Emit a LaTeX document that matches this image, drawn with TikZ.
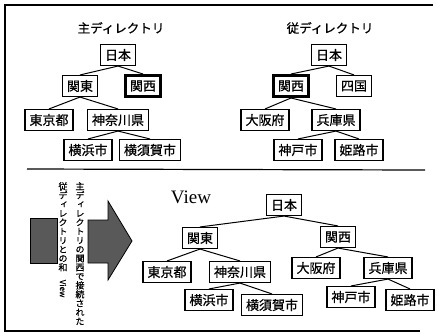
\documentclass[tikz,border=0pt]{standalone}
\usepackage{fontspec}
\setmainfont{Liberation Serif}
\newfontfamily\jp[FakeBold=0.6]{Noto Sans CJK JP}
\newfontfamily\jpv[RawFeature=+vert, FakeBold=0.5]{Noto Sans CJK JP}
\begin{document}
\begin{tikzpicture}[x=1pt,y=-1pt,
  box/.style={draw, line width=1.1pt, font=\jp\fontsize{13}{15}\selectfont, inner xsep=4.5pt, inner ysep=0pt, minimum height=21pt},
  hl/.style={box, line width=3pt},
  edge/.style={line width=1pt},
  title/.style={font=\jp\fontsize{12.5}{14}\selectfont},
  vtext/.style={font=\jpv\fontsize{9}{9}\selectfont, align=center, inner sep=0pt},
  frame/.style={line width=1.2pt},
  shade/.style={draw=black, line width=0.8pt, fill=black!65}]
\useasboundingbox (0,0) rectangle (438,333);
% frame
\draw[frame] (433,5) -- (5,5) -- (5,331) -- (420,331);
\draw[frame] (27,169) -- (425,170);

% ---- main directory
\node[title] (t1) at (121,28) {主ディレクトリ};
\node[box] (a0) at (118,55) {日本};
\node[box] (a1) at (80,86) {関東};
\node[hl]  (a2) at (143,86) {関西};
\node[box] (a3) at (49,120) {東京都};
\node[box] (a4) at (118,120) {神奈川県};
\node[box] (a5) at (88,150) {横浜市};
\node[box] (a6) at (150,150) {横須賀市};
\draw[edge] (a0.south) -- (a1.north);
\draw[edge] (a0.south) -- (a2.north);
\draw[edge] (a1.south) -- (a3.north);
\draw[edge] (a1.south) -- (a4.north);
\draw[edge] (a4.south) -- (a5.north);
\draw[edge] (a4.south) -- (a6.north);

% ---- sub directory
\node[title] (t2) at (330,28) {従ディレクトリ};
\node[box] (b0) at (329,55) {日本};
\node[hl]  (b1) at (291,86) {関西};
\node[box] (b2) at (354,86) {四国};
\node[box] (b3) at (265,120) {大阪府};
\node[box] (b4) at (336,120) {兵庫県};
\node[box] (b5) at (298,150) {神戸市};
\node[box] (b6) at (359,150) {姫路市};
\draw[edge] (b0.south) -- (b1.north);
\draw[edge] (b0.south) -- (b2.north);
\draw[edge] (b1.south) -- (b3.north);
\draw[edge] (b1.south) -- (b4.north);
\draw[edge] (b4.south) -- (b5.north);
\draw[edge] (b4.south) -- (b6.north);

% ---- left: square, arrow, vertical text
\filldraw[shade] (30,218) rectangle (57,263);
\filldraw[shade] (88,220) -- (108,220) -- (108,201) -- (132,241) -- (108,280) -- (108,263) -- (88,263) -- cycle;
\node[vtext, anchor=north] (c1) at (80,182) {主\\デ\\ィ\\レ\\ク\\ト\\リ\\の\\関\\西\\で\\接\\続\\さ\\れ\\た};
\node[vtext, anchor=north] (c2) at (63,182) {従\\デ\\ィ\\レ\\ク\\ト\\リ\\と\\の\\和\\\rotatebox{-90}{\fontsize{8}{8}\selectfont View}};

% ---- view
\node[font=\fontsize{19}{20}\selectfont, inner sep=0pt] (view) at (191,197) {View};
\node[box] (v0) at (284,205) {日本};
\node[box] (v1) at (200,238) {関東};
\node[box] (v2) at (338,237) {関西};
\node[box] (v3) at (167,272) {東京都};
\node[box] (v4) at (240,272) {神奈川県};
\node[box] (v5) at (209,300) {横浜市};
\node[box] (v6) at (272,305) {横須賀市};
\node[box] (v7) at (316,268) {大阪府};
\node[box] (v8) at (388,268) {兵庫県};
\node[box] (v9) at (351,297) {神戸市};
\node[box] (v10) at (410,300) {姫路市};
\draw[edge] (v0.south) -- (v1.north);
\draw[edge] (v0.south) -- (v2.north);
\draw[edge] (v1.south) -- (v3.north);
\draw[edge] (v1.south) -- (v4.north);
\draw[edge] (v4.south) -- (v5.north);
\draw[edge] (v4.south) -- (v6.north);
\draw[edge] (v2.south) -- (v7.north);
\draw[edge] (v2.south) -- (v8.north);
\draw[edge] (v8.south) -- (v9.north);
\draw[edge] (v8.south) -- (v10.north);
\end{tikzpicture}
\end{document}
